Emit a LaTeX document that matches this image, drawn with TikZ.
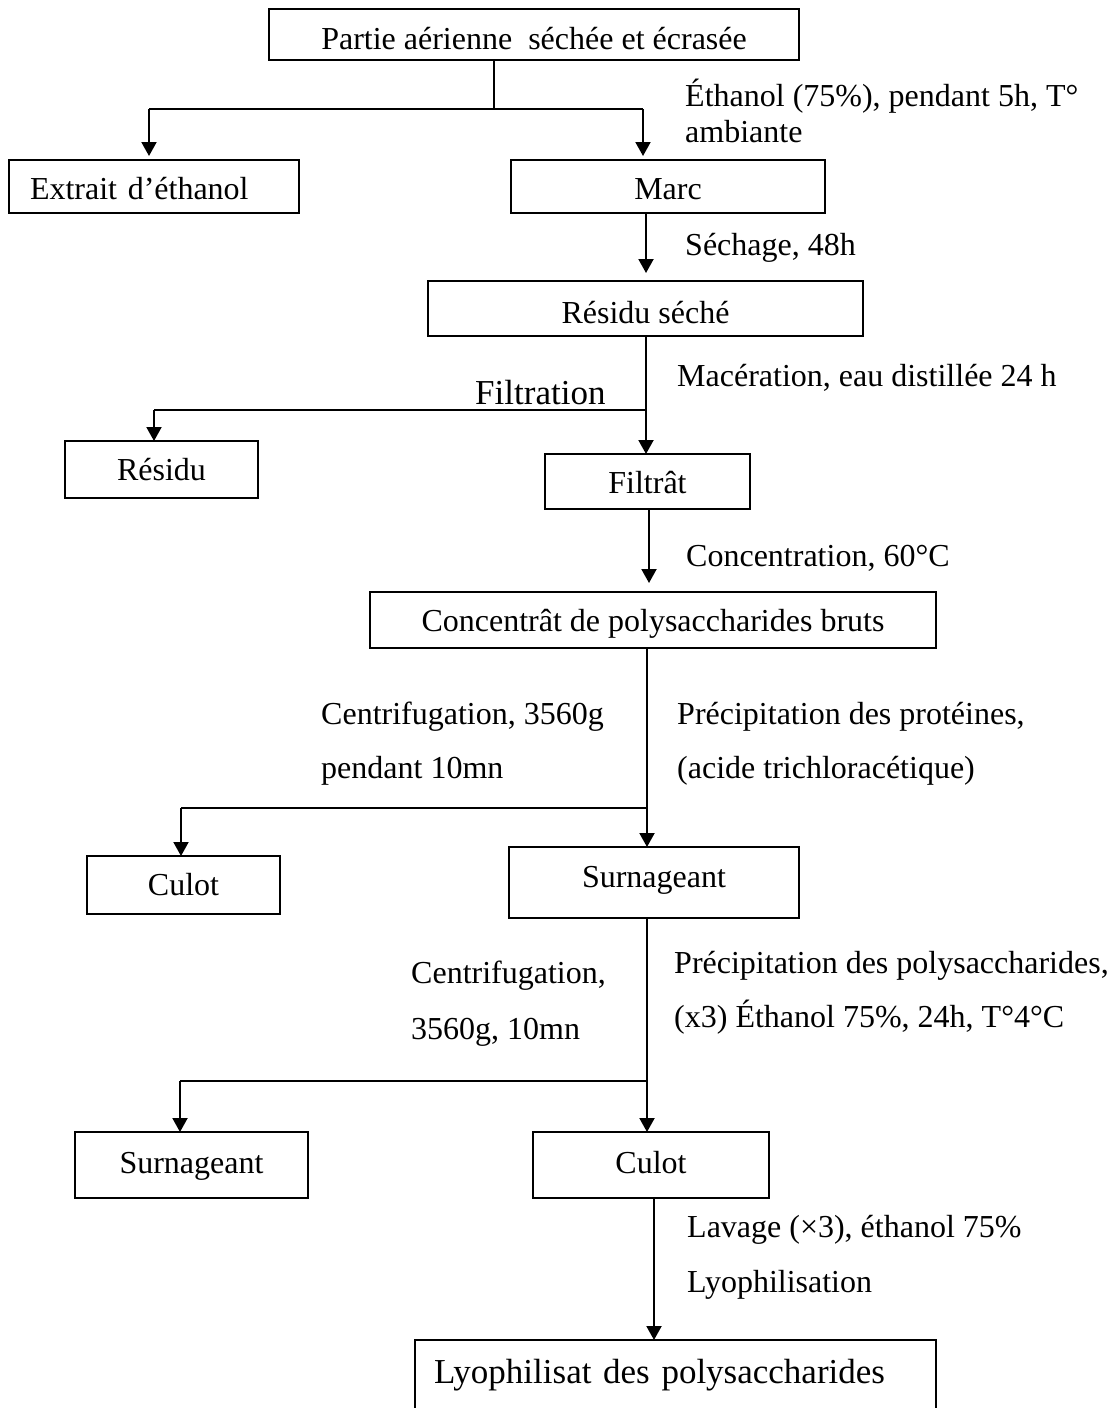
\documentclass[tikz,border=0pt]{standalone}
\usepackage{fontspec}
\setmainfont{Liberation Serif}
\usetikzlibrary{arrows.meta}
\begin{document}
\begin{tikzpicture}[x=1pt,y=-1pt,
  txt/.style={font=\fontsize{32}{36}\selectfont},
  bigtxt/.style={font=\fontsize{35}{40}\selectfont},
  box/.style={draw, line width=2pt, inner sep=0pt, outer sep=0pt, txt, text depth=0pt},
  lab/.style={txt, anchor=base west, inner sep=0pt},
  link/.style={line width=2pt},
  arr/.style={link, -{Triangle[length=14pt,width=15pt]}},
]
\clip (0,0) rectangle (1109,1408);
\fill[white] (0,0) rectangle (1109,1408);

% ---- process boxes ----
\node[box, minimum width=530pt, minimum height=51pt, text height=29pt] (top) at (534,34.5) {Partie aérienne~ séchée et écrasée};
\node[box, minimum width=290.5pt, minimum height=53pt, text height=25pt, inner xsep=21.5pt, text width=247.5pt, align=left] (ext) at (153.75,186.5) {Extrait d’éthanol};
\node[box, minimum width=314pt, minimum height=53pt, text height=25pt] (marc) at (668,186.5) {Marc};
\node[box, minimum width=435pt, minimum height=55pt, text height=29pt] (rsec) at (645.5,308.5) {Résidu séché};
\node[box, minimum width=193pt, minimum height=57pt, text height=21pt] (res) at (161.5,469.5) {Résidu};
\node[box, minimum width=205pt, minimum height=55pt, text height=23pt] (filt) at (647.5,481.5) {Filtrât};
\node[box, minimum width=566pt, minimum height=56pt, text height=22pt] (conc) at (653,620) {Concentrât de polysaccharides bruts};
\node[box, minimum width=193pt, minimum height=58pt, text height=20pt] (culA) at (183.5,885) {Culot};
\node[box, minimum width=290pt, minimum height=71pt, text height=9pt] (surA) at (654,882.5) {Surnageant};
\node[box, minimum width=233pt, minimum height=66pt, text height=16pt] (surB) at (191.5,1165) {Surnageant};
\node[box, minimum width=236pt, minimum height=66pt, text height=16pt] (culB) at (651,1165) {Culot};
\node[box, minimum width=521pt, minimum height=80pt, text height=6pt, inner xsep=19pt, text width=483pt, align=left, bigtxt] (lyo) at (675.5,1380) {Lyophilisat des polysaccharides};

% ---- step labels ----
\node[lab] (l1a) at (685,106) {Éthanol (75\%), pendant 5h, T°};
\node[lab] (l1b) at (685,142) {ambiante};
\node[lab] (l2) at (685,255) {Séchage, 48h};
\node[lab] (l3) at (677,386) {Macération, eau distillée 24 h};
\node[lab, bigtxt] (l3f) at (475,404) {Filtration};
\node[lab] (l4) at (686,566) {Concentration, 60°C};
\node[lab] (l5a) at (321,724) {Centrifugation, 3560g};
\node[lab] (l5b) at (321,778) {pendant 10mn};
\node[lab] (l6a) at (677,724) {Précipitation des protéines,};
\node[lab] (l6b) at (677,778) {(acide trichloracétique)};
\node[lab] (l7a) at (674,973) {Précipitation des polysaccharides,};
\node[lab] (l7b) at (674,1027) {(x3) Éthanol 75\%, 24h, T°4°C};
\node[lab] (l8a) at (411,983) {Centrifugation,};
\node[lab] (l8b) at (411,1039) {3560g, 10mn};
\node[lab] (l9a) at (687,1237) {Lavage (×3), éthanol 75\%};
\node[lab] (l9b) at (687,1292) {Lyophilisation};

% ---- branch points and axes ----
\coordinate (j1) at (494,109);
\coordinate (j1l) at (149,109);
\coordinate (j1r) at (643,109);
\coordinate (a2) at (646,0);
\coordinate (j2) at (646,410);
\coordinate (j2l) at (154,410);
\coordinate (a3) at (649,0);
\coordinate (j3) at (647,808);
\coordinate (j3l) at (181,808);
\coordinate (j4) at (647,1081);
\coordinate (j4l) at (180,1081);
\coordinate (a5) at (654,0);

% ---- connectors ----
\draw[link] (top.south -| j1) -- (j1);
\draw[link] (j1l) -- (j1r);
\draw[arr, shorten >=4pt] (j1l) -- (j1l |- ext.north);
\draw[arr, shorten >=4pt] (j1r) -- (j1r |- marc.north);

\draw[arr, shorten >=8pt] (marc.south -| a2) -- (rsec.north -| a2);

\draw[arr] (rsec.south -| a2) -- (filt.north -| a2);
\draw[link] (j2) -- (j2l);
\draw[arr] (j2l) -- (j2l |- res.north);

\draw[arr, shorten >=9pt] (filt.south -| a3) -- (conc.north -| a3);

\draw[arr] (conc.south -| j3) -- (surA.north -| j3);
\draw[link] (j3) -- (j3l);
\draw[arr] (j3l) -- (j3l |- culA.north);

\draw[arr] (surA.south -| j4) -- (culB.north -| j4);
\draw[link] (j4) -- (j4l);
\draw[arr] (j4l) -- (j4l |- surB.north);

\draw[arr] (culB.south -| a5) -- (lyo.north -| a5);
\end{tikzpicture}
\end{document}
